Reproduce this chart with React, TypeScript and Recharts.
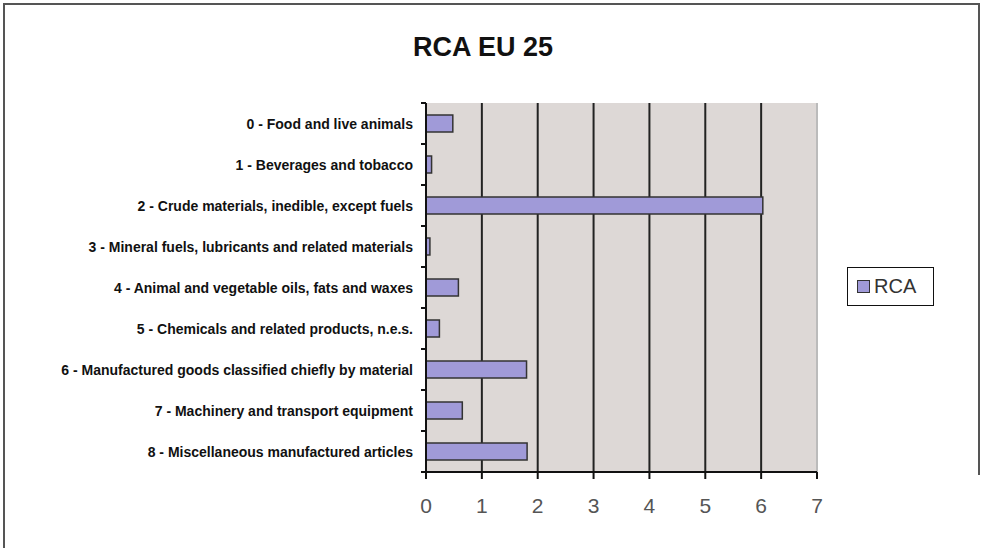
import React from "react";
import { BarChart, Bar, XAxis, YAxis, CartesianGrid, ReferenceLine } from "recharts";

const categories = [
  "0 - Food and live animals",
  "1 - Beverages and tobacco",
  "2 - Crude materials, inedible, except fuels",
  "3 - Mineral fuels, lubricants and related materials",
  "4 - Animal and vegetable oils, fats and waxes",
  "5 - Chemicals and related products, n.e.s.",
  "6 - Manufactured goods classified chiefly by material",
  "7 - Machinery and transport equipment",
  "8 - Miscellaneous manufactured articles",
];
const rcaValues = [0.48, 0.1, 6.03, 0.07, 0.58, 0.24, 1.8, 0.65, 1.81];
const xTicks = [0, 1, 2, 3, 4, 5, 6, 7];
const title = "RCA EU 25";
const seriesName = "RCA";

const data = categories.map((c, i) => ({ name: c, RCA: rcaValues[i] }));

const BAR_FILL = "#a09ad8";

const CatTick = (props: any) => {
  const { x, y, payload } = props;
  const off = payload && payload.offset ? payload.offset : 20.5;
  return (
    <g>
      <text
        x={x - 13}
        y={y}
        textAnchor="end"
        dominantBaseline="central"
        fontFamily="'Liberation Sans', Arial, sans-serif"
        fontSize={14}
        fontWeight="bold"
        fill="#111"
      >
        {payload.value}
      </text>
      <line x1={x - 5} x2={x} y1={y + off} y2={y + off} stroke="#111" strokeWidth={2} />
      {payload.index === 0 ? (
        <line x1={x - 5} x2={x} y1={y - off} y2={y - off} stroke="#111" strokeWidth={2} />
      ) : null}
    </g>
  );
};

const LegendBox = () => (
  <div
    style={{
      position: "absolute",
      left: 847,
      top: 267,
      width: 87,
      height: 39,
      border: "1.5px solid #111",
      background: "#fff",
      display: "flex",
      alignItems: "center",
      boxSizing: "border-box",
      paddingLeft: 9,
      fontFamily: "'Liberation Sans', Arial, sans-serif",
      fontSize: 20,
      color: "#333",
    }}
  >
    <span
      style={{
        width: 11,
        height: 11,
        background: BAR_FILL,
        border: "1.5px solid #333",
        display: "inline-block",
        marginRight: 4,
      }}
    />
    {seriesName}
  </div>
);

export default function App() {
  return (
    <div style={{ position: "fixed", left: 0, top: 0, width: 985, height: 548, overflow: "hidden", background: "#fff" }}>
      <div
        style={{
          position: "absolute",
          left: 3,
          top: 3,
          width: 977,
          height: 600,
          boxSizing: "border-box",
          borderLeft: "2px solid #555",
          borderTop: "2px solid #555",
        }}
      />
      <div
        style={{
          position: "absolute",
          left: 978,
          top: 3,
          width: 0,
          height: 472,
          borderLeft: "2px solid #555",
        }}
      />
      <div
        style={{
          position: "absolute",
          left: 0,
          width: 966,
          top: 32,
          textAlign: "center",
          fontFamily: "'Liberation Sans', Arial, sans-serif",
          fontWeight: "bold",
          fontSize: 27,
          color: "#111",
        }}
      >
        {title}
      </div>
      <div style={{ position: "absolute", left: 0, top: 0 }}>
        <BarChart
          width={985}
          height={548}
          data={data}
          layout="vertical"
          margin={{ top: 103, right: 168, bottom: 36, left: 0 }}
          barSize={17}
        >
          <CartesianGrid horizontal={false} vertical={true} stroke="#222" strokeWidth={2} fill="#ddd8d6" />
          <XAxis
            type="number"
            domain={[0, 7]}
            ticks={xTicks}
            interval={0}
            height={40}
            axisLine={{ stroke: "#111", strokeWidth: 2 }}
            tickLine={{ stroke: "#111", strokeWidth: 2 }}
            tickSize={7}
            tickMargin={19}
            tick={{ fill: "#555", fontSize: 21, fontFamily: "'Liberation Sans', Arial, sans-serif" }}
          />
          <XAxis
            xAxisId="top"
            orientation="top"
            type="number"
            domain={[0, 7]}
            height={0}
            tick={false}
            tickLine={false}
            axisLine={{ stroke: "#bbb", strokeWidth: 2 }}
          />
          <YAxis
            type="category"
            dataKey="name"
            width={426}
            interval={0}
            tickSize={0}
            tickMargin={0}
            axisLine={{ stroke: "#111", strokeWidth: 2 }}
            tickLine={false}
            tick={<CatTick />}
          />
          <ReferenceLine x={7} stroke="#bbb" strokeWidth={2} />
          <Bar dataKey="RCA" name={seriesName} fill={BAR_FILL} stroke="#333" strokeWidth={1.5} isAnimationActive={false} />
        </BarChart>
      </div>
      <LegendBox />
    </div>
  );
}
